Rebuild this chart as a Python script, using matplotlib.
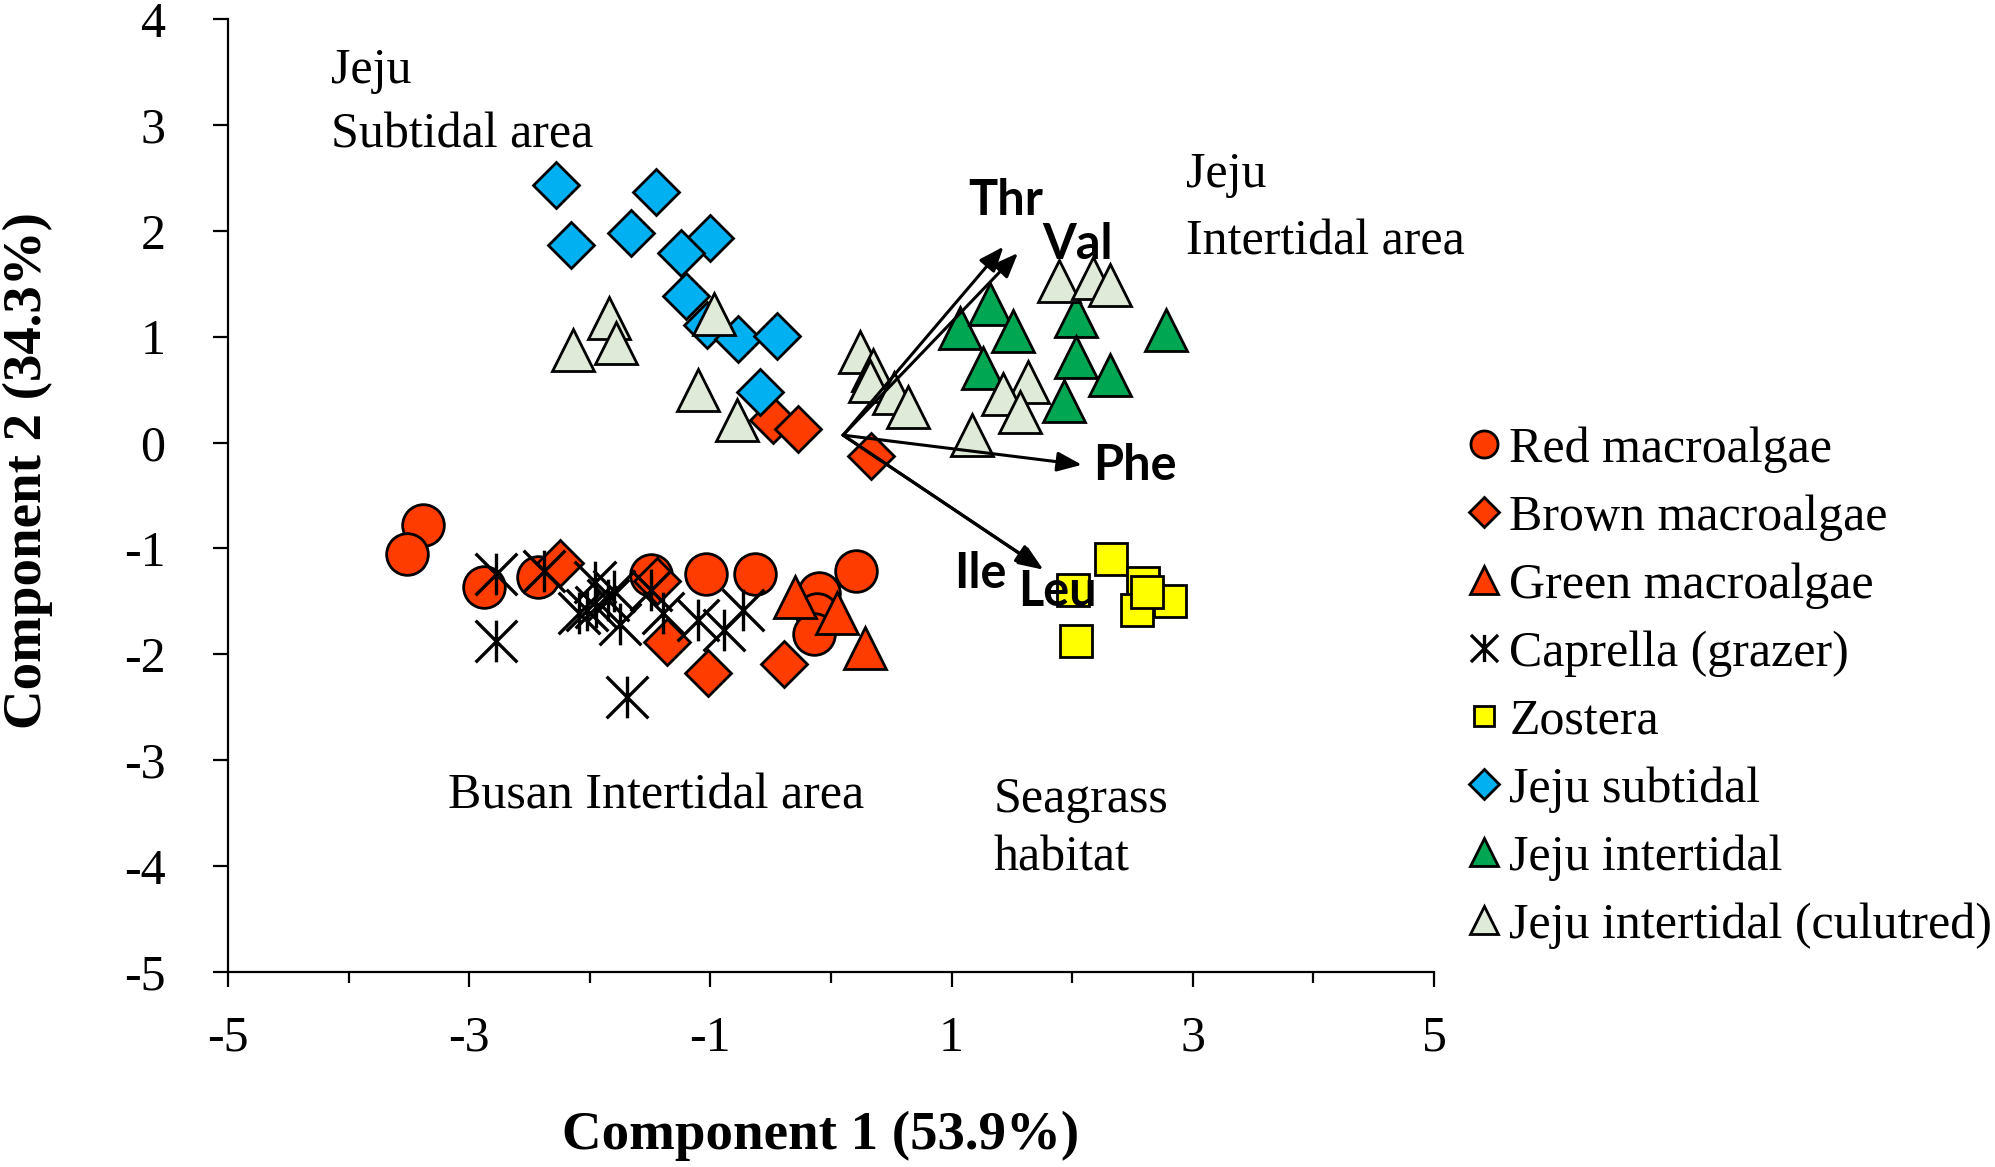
import matplotlib
matplotlib.use("Agg")
import matplotlib.pyplot as plt
from matplotlib.path import Path

plt.rcParams['font.family'] = ['Liberation Serif', 'DejaVu Serif']
plt.rcParams['axes.unicode_minus'] = False

# ---- data (PC scores) ----
red_x = [-3.38, -3.52, -2.88, -2.43, -1.49, -1.04, -0.63, 0.21, -0.10, -0.12, -0.14]
red_y = [-0.78, -1.05, -1.36, -1.27, -1.25, -1.24, -1.24, -1.21, -1.42, -1.62, -1.81]

brown_x = [-2.25, -1.44, -1.36, -1.02, -0.39, -0.48, -0.27, 0.33]
brown_y = [-1.14, -1.31, -1.88, -2.18, -2.09, 0.21, 0.13, -0.13]

green_x = [-0.30, 0.05, 0.28]
green_y = [-1.46, -1.61, -1.94]

caprella_x = [-2.78, -2.78, -2.38, -1.96, -2.09, -2.02, -1.85, -1.75, -1.69,
              -1.49, -1.39, -1.10, -0.89, -0.73, -1.95, -1.80]
caprella_y = [-1.24, -1.87, -1.21, -1.32, -1.61, -1.58, -1.49, -1.71, -2.40,
              -1.39, -1.61, -1.68, -1.77, -1.58, -1.55, -1.40]

zostera_x = [2.32, 2.01, 2.59, 2.81, 2.54, 2.62, 2.03]
zostera_y = [-1.10, -1.39, -1.33, -1.50, -1.58, -1.41, -1.87]

subtidal_x = [-2.28, -1.45, -2.16, -1.66, -1.00, -1.24, -1.20, -1.03, -0.77, -0.45, -0.59]
subtidal_y = [2.43, 2.37, 1.87, 1.98, 1.93, 1.79, 1.38, 1.11, 0.98, 1.01, 0.48]

inter_x = [1.07, 1.32, 1.51, 1.26, 2.03, 2.78, 2.03, 2.31, 1.93]
inter_y = [1.08, 1.31, 1.05, 0.70, 1.20, 1.06, 0.81, 0.64, 0.39]

cult_x = [-1.84, -1.78, -2.14, -0.97, -1.10, -0.78,
          1.89, 2.17, 2.31, 0.24, 0.35, 0.32, 0.52, 0.64, 1.63, 1.43, 1.57, 1.17]
cult_y = [1.18, 0.94, 0.87, 1.21, 0.50, 0.21,
          1.53, 1.55, 1.49, 0.86, 0.69, 0.58, 0.47, 0.34, 0.57, 0.46, 0.29, 0.07]

# loading vectors
amino = ["Thr", "Val", "Phe", "Ile", "Leu"]
load_x = [1.43, 1.55, 2.08, 1.74, 1.76]
load_y = [1.85, 1.79, -0.21, -1.18, -1.20]
origin = (0.10, 0.07)
label_pos = [(1.45, 2.29), (2.04, 1.87), (2.52, -0.22), (1.24, -1.24), (1.88, -1.41)]

RED = "#ff3c00"
BLUE = "#00b0f0"
GREEN = "#00a651"
PALE = "#dfead8"
YELLOW = "#ffff00"

# asterisk like excel's "*" marker
star = Path([(0, -1), (0, 1), (-1, -1), (1, 1), (-1, 1), (1, -1)],
            [Path.MOVETO, Path.LINETO, Path.MOVETO, Path.LINETO, Path.MOVETO, Path.LINETO])

fig = plt.figure(figsize=(19.95, 11.67), dpi=100)
ax = fig.add_axes([0.1143, 0.1671, 0.6045, 0.8166])

kw = dict(linestyle='none', markeredgecolor='black', markeredgewidth=2)
ax.plot(red_x, red_y, marker='o', ms=30, mfc=RED, label="Red macroalgae", **kw)
ax.plot(brown_x, brown_y, marker='D', ms=23, mfc=RED, label="Brown macroalgae", **kw)
ax.plot(green_x, green_y, marker='^', ms=30, mfc=RED, label="Green macroalgae", **kw)
ax.plot(caprella_x, caprella_y, marker=star, ms=30, linestyle='none', color='black',
        markeredgewidth=2.4, label="Caprella (grazer)")
ax.plot(zostera_x, zostera_y, marker='s', ms=23, mfc=YELLOW, label="Zostera", **kw)
ax.plot(subtidal_x, subtidal_y, marker='D', ms=23, mfc=BLUE, label="Jeju subtidal", **kw)
ax.plot(inter_x, inter_y, marker='^', ms=30, mfc=GREEN, label="Jeju intertidal", **kw)
ax.plot(cult_x, cult_y, marker='^', ms=30, mfc=PALE, label="Jeju intertidal (culutred)", **kw)

for i in range(len(amino)):
    ax.annotate('', xy=(load_x[i], load_y[i]), xytext=origin,
                arrowprops=dict(arrowstyle='-|>,head_length=0.5,head_width=0.2',
                                color='black', lw=2.2, mutation_scale=30,
                                shrinkA=0, shrinkB=0))
    ax.text(label_pos[i][0], label_pos[i][1], amino[i], family='Lato', weight='bold',
            fontsize=35, ha='center', va='center')

ax.text(-4.15, 3.21, "Jeju\nSubtidal area", fontsize=36, va='center', ha='left', linespacing=1.5)
ax.text(2.94, 2.21, "Jeju\nIntertidal area", fontsize=36, va='center', ha='left', linespacing=1.6)
ax.text(-3.18, -3.34, "Busan Intertidal area", fontsize=36, va='center', ha='left')
ax.text(1.35, -3.65, "Seagrass\nhabitat", fontsize=36, va='center', ha='left', linespacing=1.36)

ax.set_xlim(-5, 5)
ax.set_ylim(-5, 4)
ax.set_xticks([-5, -3, -1, 1, 3, 5])
ax.set_xticks([-4, -2, 0, 2, 4], minor=True)
ax.set_yticks(range(-5, 5))
ax.spines['top'].set_visible(False)
ax.spines['right'].set_visible(False)
for s in ['left', 'bottom']:
    ax.spines[s].set_linewidth(1.6)
ax.tick_params(axis='both', which='major', direction='out', length=11, width=1.6, labelsize=36)
ax.tick_params(axis='x', which='major', pad=20)
ax.tick_params(axis='y', which='major', pad=34)
ax.tick_params(axis='x', which='minor', direction='out', length=8, width=1.6)

fig.text(0.4113, 0.0266, "Component 1 (53.9%)", fontsize=39.5, weight='bold', ha='center', va='center')
fig.text(0.014, 0.5964, "Component 2 (34.3%)", fontsize=39.5, weight='bold', ha='center', va='center',
         rotation=90)

ax.legend(loc='center left', bbox_to_anchor=(0.7378, 0.4108), bbox_transform=fig.transFigure,
          frameon=False, fontsize=36, markerscale=0.65, borderpad=0, borderaxespad=0,
          handlelength=0.5, handletextpad=0.25, labelspacing=0.43, numpoints=1)

fig.savefig("out.png", dpi=100)
